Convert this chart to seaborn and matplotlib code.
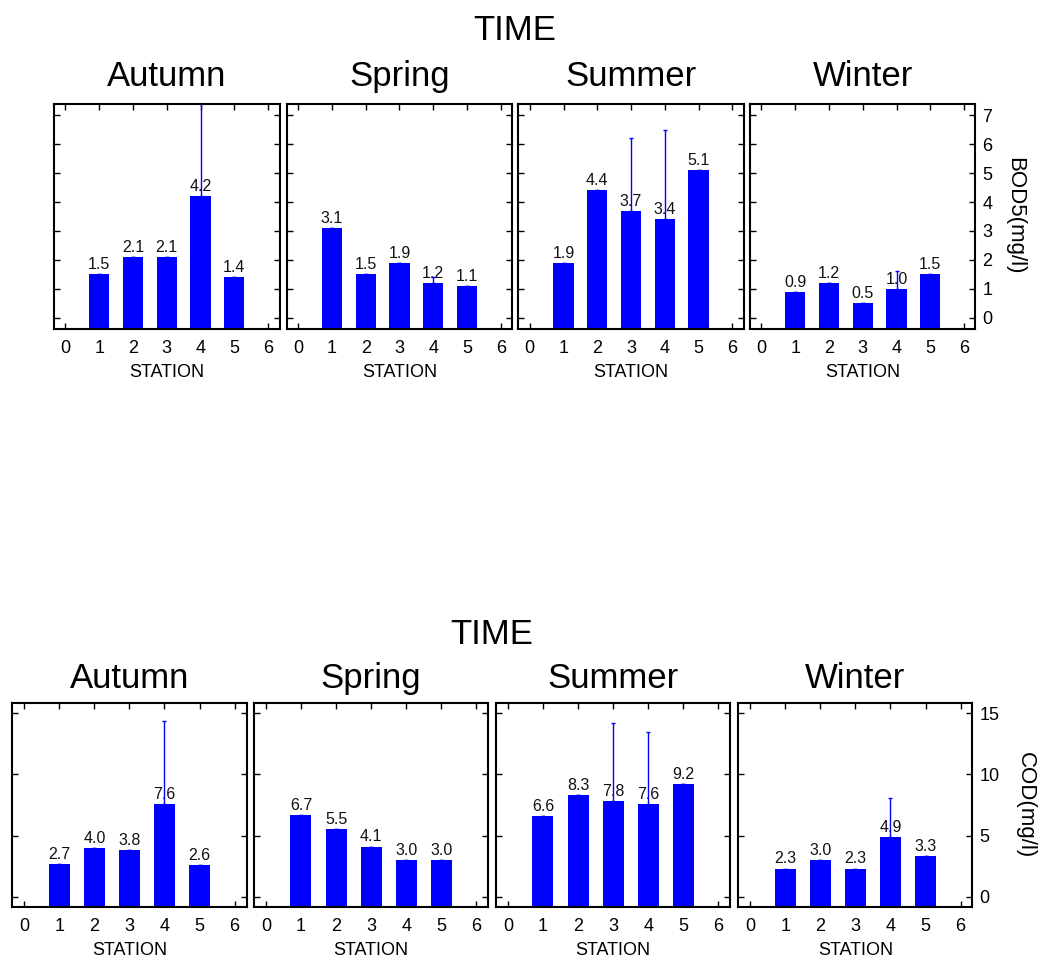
import matplotlib
matplotlib.use("Agg")
import matplotlib.pyplot as plt
import seaborn as sns
import pandas as pd
import numpy as np

# ---- data -------------------------------------------------------------
seasons = ["Autumn", "Spring", "Summer", "Winter"]
stations = [1, 2, 3, 4, 5]

bod_autumn = [1.5, 2.1, 2.1, 4.2, 1.4]
bod_spring = [3.1, 1.5, 1.9, 1.2, 1.1]
bod_summer = [1.9, 4.4, 3.7, 3.4, 5.1]
bod_winter = [0.9, 1.2, 0.5, 1.0, 1.5]

# upper end of the error bar for each station
bod_upper_autumn = [1.5, 2.1, 2.1, 8.0, 1.4]
bod_upper_spring = [3.1, 1.5, 1.9, 1.4, 1.1]
bod_upper_summer = [1.9, 4.4, 6.2, 6.5, 5.1]
bod_upper_winter = [0.9, 1.2, 0.5, 1.6, 1.5]

cod_autumn = [2.7, 4.0, 3.8, 7.6, 2.6]
cod_spring = [6.7, 5.5, 4.1, 3.0, 3.0]
cod_summer = [6.6, 8.3, 7.8, 7.6, 9.2]
cod_winter = [2.3, 3.0, 2.3, 4.9, 3.3]

cod_upper_autumn = [2.7, 4.0, 3.8, 14.4, 2.6]
cod_upper_spring = [6.7, 5.5, 4.1, 3.0, 3.0]
cod_upper_summer = [6.6, 8.3, 14.2, 13.45, 9.2]
cod_upper_winter = [2.3, 3.0, 2.3, 8.1, 3.3]

bod_ticks = [0, 1, 2, 3, 4, 5, 6, 7]
cod_ticks = [0, 5, 10, 15]
x_ticks = [0, 1, 2, 3, 4, 5, 6]


def long_frame(values, uppers):
    rows = []
    for s, vals, ups in zip(seasons, values, uppers):
        for st, v, u in zip(stations, vals, ups):
            rows.append({"TIME": s, "STATION": st, "value": v, "upper": u})
    return pd.DataFrame(rows)


bod = long_frame([bod_autumn, bod_spring, bod_summer, bod_winter],
                 [bod_upper_autumn, bod_upper_spring, bod_upper_summer, bod_upper_winter])
cod = long_frame([cod_autumn, cod_spring, cod_summer, cod_winter],
                 [cod_upper_autumn, cod_upper_spring, cod_upper_summer, cod_upper_winter])

# ---- style ------------------------------------------------------------
sns.set_theme(style="white")
plt.rcParams["font.family"] = ["Liberation Sans", "DejaVu Sans"]
plt.rcParams["text.color"] = "black"
plt.rcParams["axes.labelcolor"] = "black"
BLUE = "#0000ff"

fig = plt.figure(figsize=(10.43, 9.61), dpi=100)
W, H = 1043.0, 961.0


def panel_row(df, lefts, width, bottom, height, ylim, yticks, ylabel,
              ylabel_xy, title_xy, title_pad):
    for i, (season, left) in enumerate(zip(seasons, lefts)):
        ax = fig.add_axes([left / W, 1 - bottom / H, width / W, height / H])
        sub = df[df["TIME"] == season]
        sns.barplot(data=sub, x="STATION", y="value", native_scale=True,
                    width=0.6, color=BLUE, saturation=1, errorbar=None,
                    linewidth=0, ax=ax)
        ax.set_xlim(-0.34, 6.34)
        ax.set_ylim(*ylim)
        # bars run down to the frame
        for p in ax.patches:
            top = p.get_y() + p.get_height()
            p.set_y(ylim[0])
            p.set_height(top - ylim[0])
        # one-sided error bars above the bars
        vals = sub["value"].to_numpy()
        ups = sub["upper"].to_numpy()
        ax.errorbar(sub["STATION"], vals, yerr=[np.zeros_like(vals), ups - vals],
                    fmt="none", ecolor=BLUE, elinewidth=1.0, capsize=1.5,
                    capthick=1.0, zorder=5, clip_on=True)
        for x, v in zip(sub["STATION"], vals):
            ax.annotate(f"{v:.1f}", (x, v), xytext=(0, 1.5),
                        textcoords="offset points", ha="center", va="bottom",
                        fontsize=11.5, color="#111111", zorder=4)
        ax.set_xticks(x_ticks)
        ax.set_xticklabels([str(t) for t in x_ticks])
        ax.set_yticks(yticks)
        ax.set_yticklabels([str(t) for t in yticks])
        ax.tick_params(axis="both", direction="in", length=4.5, width=1.0,
                       top=True, right=True, left=True, bottom=True,
                       labelleft=False, labelright=(i == 3),
                       labelsize=13, colors="black", pad=5)
        ax.tick_params(axis="x", pad=8)
        ax.set_ylabel("")
        ax.set_xlabel("STATION", fontsize=13, labelpad=5)
        ax.set_title(season, fontsize=25, pad=title_pad)
        for sp in ax.spines.values():
            sp.set_visible(True)
            sp.set_linewidth(1.5)
            sp.set_color("black")
        ax.grid(False)
    fig.text(ylabel_xy[0] / W, 1 - ylabel_xy[1] / H, ylabel, rotation=270,
             ha="center", va="center", fontsize=16)
    fig.text(title_xy[0] / W, 1 - title_xy[1] / H, "TIME", ha="center",
             va="baseline", fontsize=25)


panel_row(bod, [54, 286.7, 518.3, 750], 225.5, 329, 224.7,
          (-0.39, 7.38), bod_ticks, "BOD5(mg/l)", (1015, 216), (515, 40), 13)
panel_row(cod, [12.3, 254, 496, 738.3], 234.2, 906.7, 203.4,
          (-0.82, 15.82), cod_ticks, "COD(mg/l)", (1025, 805), (492, 644), 11)

fig.savefig("out.png", dpi=100, facecolor="white")
